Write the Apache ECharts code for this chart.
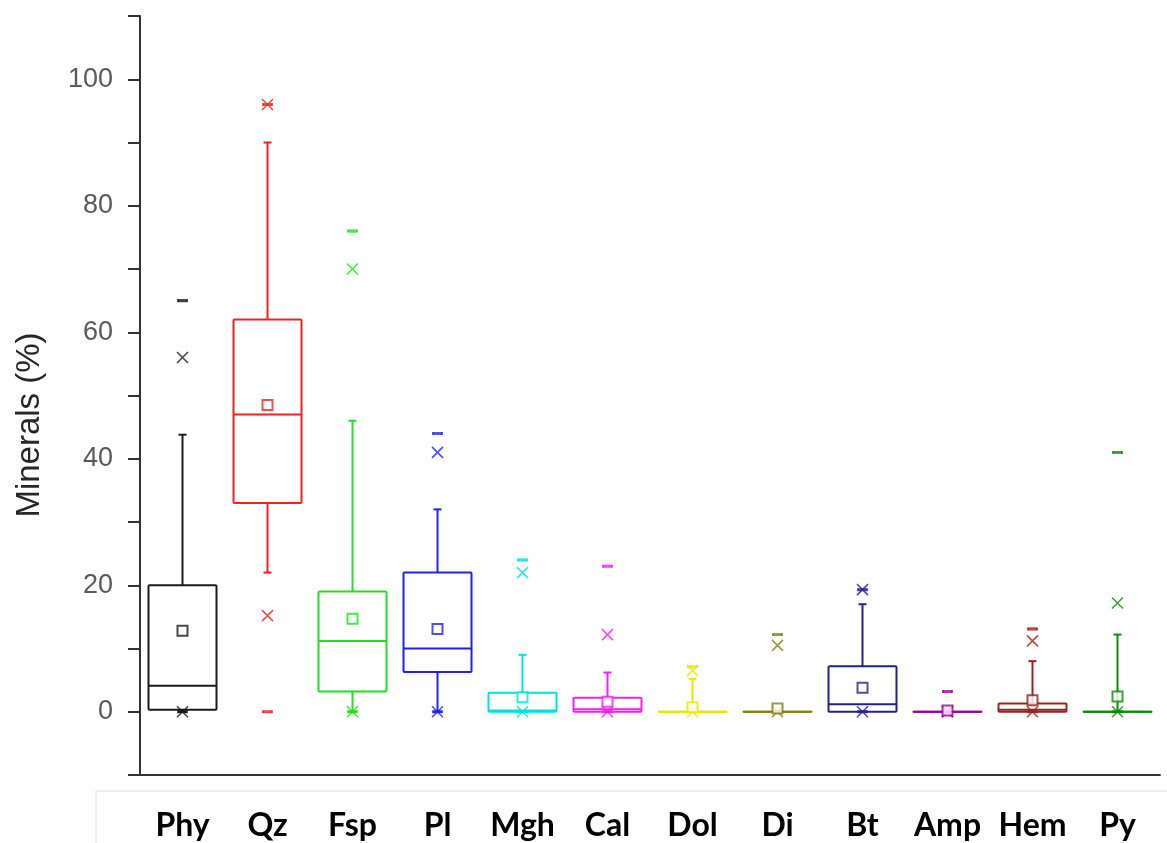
<!DOCTYPE html>
<html>
<head>
<meta charset="utf-8">
<script src="https://cdn.jsdelivr.net/npm/echarts@6/dist/echarts.min.js"></script>
<style>
html,body{margin:0;padding:0;background:#fff;}
#chart{width:1167px;height:843px;}
</style>
</head>
<body>
<div id="chart"></div>
<script>
// ---- data ----
const categories = ['Phy','Qz','Fsp','Pl','Mgh','Cal','Dol','Di','Bt','Amp','Hem','Py'];
const colors = ['#1a1a1a','#ee2222','#22dd22','#2222e6','#00e0e0','#f020f0','#e6e600','#808010','#22228f','#990099','#992222','#0a8a0a'];
const whiskerLow  = [0,   22,  0,    0,   0,   0,   0,   0,   0,   0,   0,   0];
const q1          = [0.3, 33,  3.2,  6.3, 0,   0,   0,   0,   0,   0,   0,   0];
const median      = [4.1, 47,  11.2, 10,  0.2, 0.4, 0,   0,   1.2, 0,   0.3, 0];
const q3          = [20,  62,  19,   22,  3,   2.2, 0,   0,   7.2, 0,   1.3, 0];
const whiskerHigh = [43.8,90,  46,   32,  9,   6.2, 5.2, 0,   17,  0,   8,   12.2];
const meanVal     = [12.8,48.5,14.7, 13.1,2.3, 1.6, 0.7, 0.5, 3.8, 0.2, 1.8, 2.4];
const p1          = [0,   15.2,0,    0,   0,   0,   0,   0,   0,   0,   0,   0];
const p99         = [56,  96,  70,   41,  22,  12.2,6.5, 10.5,19.3,0,   11.2,17.2];
const minVal      = [0,   0,   0,    0,   0,   0,   0,   0,   0,   0,   0,   0];
const maxVal      = [65,  96,  76,   44,  24,  23,  7.1, 12.2,19.3,3.2, 13.1,41];
const yTicks = [0,20,40,60,80,100];

const boxData = categories.map((c,i)=>[i, whiskerLow[i], q1[i], median[i], q3[i], whiskerHigh[i]]);
function pts(arr){ return arr.map((v,i)=>({value:[i,v], itemStyle:{color:colors[i], borderColor:colors[i]}})); }
function hollow(arr){ return arr.map((v,i)=>({value:[i,v], itemStyle:{color:'#fff', borderColor:colors[i]}})); }
function cross(arr){ return arr.map((v,i)=>({value:[i,v], itemStyle:{color:'none', borderColor:colors[i]}})); }

const chart = echarts.init(document.getElementById('chart'), null, {renderer:'canvas'});
const option = {
  animation:false,
  backgroundColor:'#fff',
  grid:{left:140, right:7, top:16, bottom:68},
  xAxis:{
    type:'category', data:categories, boundaryGap:true,
    axisLine:{onZero:false, lineStyle:{color:'#333', width:2}},
    axisTick:{alignWithLabel:true, length:15, lineStyle:{color:'#333', width:2}},
    axisLabel:{interval:0, margin:35, fontSize:32, fontWeight:'bold', color:'#000', fontFamily:'Lato'},
    splitLine:{show:false}
  },
  yAxis:{
    type:'value', min:-10, max:110, interval:10,
    axisLine:{show:true, lineStyle:{color:'#333', width:2}},
    axisTick:{show:true, length:12, lineStyle:{color:'#333', width:2}},
    axisLabel:{margin:27, fontSize:27, color:'#595959', fontFamily:'Liberation Sans',
      formatter:v=> yTicks.indexOf(v)>=0 ? String(v) : ''},
    splitLine:{show:false}
  },
  graphic:[
    {type:'rect', shape:{x:96, y:791, width:1200, height:200}, style:{fill:'none', stroke:'#dcdcdc', lineWidth:1}, z:-1},
    {type:'text', x:30, y:425, rotation:Math.PI/2, style:{text:'Minerals (%)', fontSize:33, fill:'#262626', fontFamily:'Liberation Sans', align:'center', verticalAlign:'middle'}}
  ],
  series:[
    {
      type:'custom', data:boxData, encode:{x:0, y:[1,2,3,4,5]}, z:2,
      renderItem:function(params, api){
        const i = api.value(0);
        const lo = api.value(1), a = api.value(2), m = api.value(3), b = api.value(4), hi = api.value(5);
        const x = api.coord([i,0])[0];
        const bw = api.size([1,0])[0]*0.8;
        const y = v => api.coord([i,v])[1];
        const c = colors[i];
        const st = {stroke:c, lineWidth:2, fill:null};
        const cap = 4;
        const ch = [];
        ch.push({type:'rect', shape:{x:x-bw/2, y:y(b), width:bw, height:Math.max(y(a)-y(b),0.01), r:1}, style:st});
        ch.push({type:'line', shape:{x1:x-bw/2, y1:y(m), x2:x+bw/2, y2:y(m)}, style:st});
        if (hi > b) {
          ch.push({type:'line', shape:{x1:x, y1:y(b), x2:x, y2:y(hi)}, style:st});
          ch.push({type:'line', shape:{x1:x-cap, y1:y(hi), x2:x+cap, y2:y(hi)}, style:st});
        }
        if (lo < a) {
          ch.push({type:'line', shape:{x1:x, y1:y(a), x2:x, y2:y(lo)}, style:st});
          ch.push({type:'line', shape:{x1:x-cap, y1:y(lo), x2:x+cap, y2:y(lo)}, style:st});
        }
        return {type:'group', children:ch};
      }
    },
    {type:'scatter', name:'min', data:pts(minVal), symbol:'rect', symbolSize:[9,2.5], z:3},
    {type:'scatter', name:'max', data:pts(maxVal), symbol:'rect', symbolSize:[9,2.5], z:3},
    {type:'scatter', name:'p1', data:cross(p1), symbol:'path://M0,0L10,10M0,10L10,0', symbolSize:11, z:4,
      itemStyle:{borderWidth:1.6, opacity:0.8}},
    {type:'scatter', name:'p99', data:cross(p99), symbol:'path://M0,0L10,10M0,10L10,0', symbolSize:11, z:4,
      itemStyle:{borderWidth:1.6, opacity:0.8}},
    {type:'scatter', name:'mean', data:hollow(meanVal), symbol:'rect', symbolSize:10, z:5,
      itemStyle:{borderWidth:2}}
  ]
};
chart.setOption(option);
</script>
</body>
</html>
